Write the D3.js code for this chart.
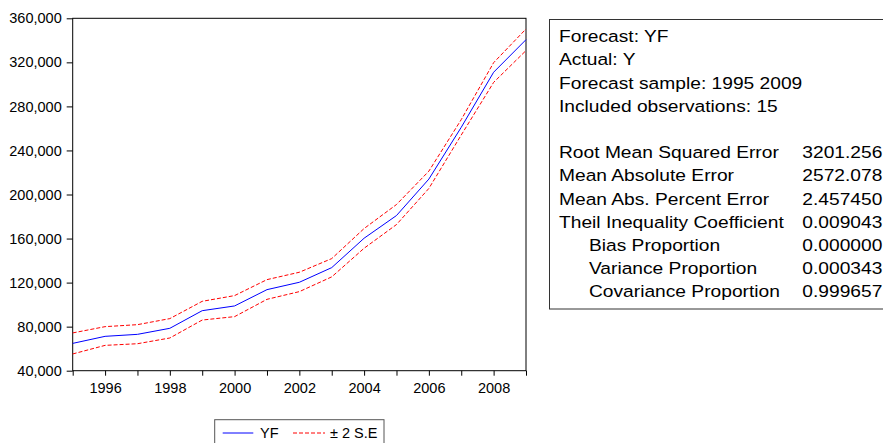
<!DOCTYPE html>
<html>
<head>
<meta charset="utf-8">
<script src="https://cdn.jsdelivr.net/npm/d3@7"></script>
<style>
  body { margin: 0; background: #fff; }
  svg { display: block; font-family: "Liberation Sans", Arial, sans-serif; }
  .axis path { display: none; }
  .axis line { stroke: #000; }
  .axis text { font-size: 14.5px; fill: #000; }
</style>
</head>
<body>
<script>
"use strict";

// forecast series
var years = [1995, 1996, 1997, 1998, 1999, 2000, 2001, 2002, 2003, 2004, 2005, 2006, 2007, 2008, 2009];
var yf    = [64800, 71200, 73000, 78500, 94500, 98800, 113600, 120300, 133600, 160300, 180900, 214000, 261000, 311000, 340600];
var upper = [74300, 80000, 81800, 87300, 103000, 108200, 122700, 129400, 141800, 169100, 190900, 221200, 268000, 319700, 350300];
var lower = [55200, 63000, 64500, 69700, 86000, 89100, 104800, 111800, 125200, 151200, 172700, 205500, 254000, 301800, 330700];

var yTicks = [40000, 80000, 120000, 160000, 200000, 240000, 280000, 320000, 360000];
var xLabels = [1996, 1998, 2000, 2002, 2004, 2006, 2008];

var legendNames = ["YF", "\u00b1 2 S.E"];

var infoLines = ["Forecast: YF", "Actual: Y", "Forecast sample: 1995 2009", "Included observations: 15"];
var statNames = ["Root Mean Squared Error", "Mean Absolute Error", "Mean Abs. Percent Error",
  "Theil Inequality Coefficient", "Bias Proportion", "Variance Proportion", "Covariance Proportion"];
var statValues = ["3201.256", "2572.078", "2.457450", "0.009043", "0.000000", "0.000343", "0.999657"];
var statIndent = [false, false, false, false, true, true, true];

var plot = {left: 72.7, right: 526, top: 18.3, bottom: 370.7};

var svg = d3.select('body').append('svg')
  .attr('width', 883)
  .attr('height', 443);

var x = d3.scaleLinear()
  .domain([1995, 2009])
  .range([plot.left, plot.right]);

var y = d3.scaleLinear()
  .domain([40000, 360000])
  .range([plot.bottom, plot.top]);

// axes
var xAxis = d3.axisBottom(x)
  .tickValues(years)
  .tickSize(5)
  .tickPadding(7)
  .tickFormat(function(d) { return xLabels.indexOf(d) >= 0 ? d : ""; });

svg.append('g')
  .attr('class', 'axis')
  .attr('transform', 'translate(0,' + plot.bottom + ')')
  .call(xAxis);

var yAxis = d3.axisLeft(y)
  .tickValues(yTicks)
  .tickSize(6)
  .tickPadding(5)
  .tickFormat(d3.format(','));

svg.append('g')
  .attr('class', 'axis')
  .attr('transform', 'translate(' + plot.left + ',0)')
  .call(yAxis);

// frame
svg.append('rect')
  .attr('x', plot.left)
  .attr('y', plot.top)
  .attr('width', plot.right - plot.left)
  .attr('height', plot.bottom - plot.top)
  .attr('fill', 'none')
  .attr('stroke', '#000');

// lines
var line = function(values) {
  return d3.line()
    .x(function(d, i) { return x(years[i]); })
    .y(function(d) { return y(d); })(values);
};

[upper, lower].forEach(function(band) {
  svg.append('path')
    .attr('d', line(band))
    .attr('fill', 'none')
    .attr('stroke', '#ff0000')
    .attr('stroke-width', 1)
    .attr('stroke-dasharray', '4,2');
});

svg.append('path')
  .attr('d', line(yf))
  .attr('fill', 'none')
  .attr('stroke', '#0000ff')
  .attr('stroke-width', 1);

// legend
var legend = svg.append('g').attr('transform', 'translate(214.7,419.7)');

legend.append('rect')
  .attr('width', 169.3)
  .attr('height', 40)
  .attr('fill', '#fff')
  .attr('stroke', '#555');

legend.append('line')
  .attr('x1', 8).attr('x2', 38.6)
  .attr('y1', 13.3).attr('y2', 13.3)
  .attr('stroke', '#0000ff');

legend.append('text')
  .attr('x', 45.3).attr('y', 18.6)
  .attr('font-size', 14.5)
  .text(legendNames[0]);

legend.append('line')
  .attr('x1', 78.3).attr('x2', 110.3)
  .attr('y1', 13.3).attr('y2', 13.3)
  .attr('stroke', '#ff0000')
  .attr('stroke-dasharray', '4,2');

legend.append('text')
  .attr('x', 115.3).attr('y', 18.6)
  .attr('font-size', 14.5)
  .text(legendNames[1]);

// statistics box
svg.append('rect')
  .attr('x', 549.5)
  .attr('y', 19.5)
  .attr('width', 400)
  .attr('height', 289.5)
  .attr('fill', 'none')
  .attr('stroke', '#333');

var stats = svg.append('g')
  .attr('transform', 'translate(559,0) scale(1.13,1)')
  .attr('font-size', 17);

var lineStep = 23.2;

stats.selectAll('text.info')
  .data(infoLines)
  .enter().append('text')
  .attr('class', 'info')
  .attr('x', 0)
  .attr('y', function(d, i) { return 42.3 + i * lineStep; })
  .text(function(d) { return d; });

stats.selectAll('text.name')
  .data(statNames)
  .enter().append('text')
  .attr('class', 'name')
  .attr('x', function(d, i) { return statIndent[i] ? 26.5 : 0; })
  .attr('y', function(d, i) { return 42.3 + (i + 5) * lineStep; })
  .text(function(d) { return d; });

stats.selectAll('text.value')
  .data(statValues)
  .enter().append('text')
  .attr('class', 'value')
  .attr('x', 215.3)
  .attr('y', function(d, i) { return 42.3 + (i + 5) * lineStep; })
  .text(function(d) { return d; });
</script>
</body>
</html>
